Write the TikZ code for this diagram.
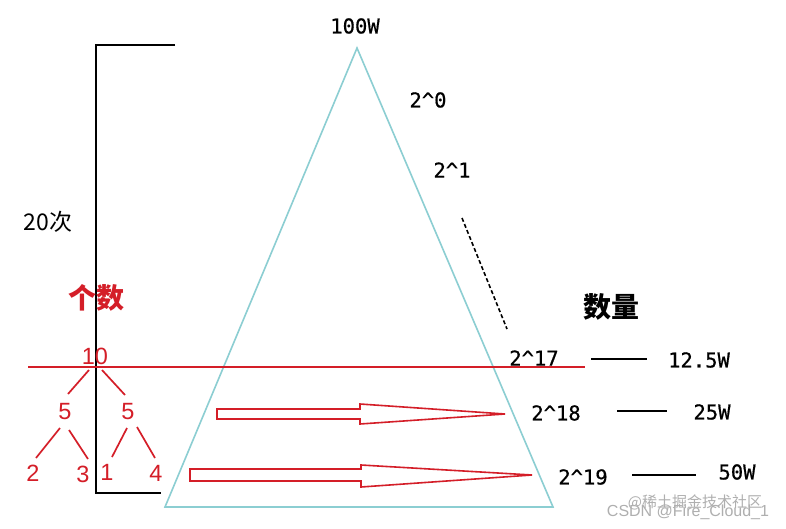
\documentclass[tikz,border=0pt]{standalone}
\usepackage{fontspec}
\setmainfont{Liberation Sans}
\newfontfamily\cjk{Noto Sans CJK SC}
\newfontfamily\mono[FakeBold=0.6]{DejaVu Sans Mono}
\definecolor{tricol}{RGB}{140,206,210}
\definecolor{redc}{RGB}{212,30,40}
\definecolor{wmc}{RGB}{175,175,175}
\begin{document}
\begin{tikzpicture}[x=1pt,y=-1pt,
  tri/.style={draw=tricol, line width=1.6pt, line join=miter},
  brk/.style={draw=black, line width=2pt},
  redl/.style={draw=redc, line width=1.7pt},
  blk/.style={font=\mono\fontsize{20.5}{24}\selectfont, inner sep=0pt},
  rnum/.style={font=\fontsize{23.5}{26}\selectfont, text=redc, inner sep=0pt},
  tickl/.style={draw=black, line width=1.6pt},
  blockarrow/.style={draw=redc, line width=1.6pt, line join=miter},
  wm/.style={text=wmc, inner sep=0pt}]
\useasboundingbox (0,0) rectangle (786,529);
\fill[white] (0,0) rectangle (786,529);
% triangle
\coordinate (apex) at (357,48);
\coordinate (bl) at (165,507);
\coordinate (br) at (553,507);
\draw[tri] (apex) -- (br) -- (bl) -- cycle;
% bracket
\coordinate (bt) at (175,45);
\coordinate (tl) at (96,45);
\coordinate (bb) at (96,493);
\coordinate (be) at (161,493);
\draw[brk] (bt) -- (tl) -- (bb) -- (be);
% red horizontal line
\coordinate (rl1) at (28,367);
\coordinate (rl2) at (585,367);
\draw[redl] (rl1) -- (rl2);
% block arrows
\coordinate (a1) at (217,409); \coordinate (a2) at (360,409);
\coordinate (a3) at (360,404); \coordinate (a4) at (505,414);
\coordinate (a5) at (360,424); \coordinate (a6) at (360,419);
\coordinate (a7) at (217,419);
\draw[blockarrow] (a1) -- (a2) -- (a3) -- (a4) -- (a5) -- (a6) -- (a7) -- cycle;
\coordinate (b1) at (190,469); \coordinate (b2) at (361,469);
\coordinate (b3) at (361,465); \coordinate (b4) at (532,475);
\coordinate (b5) at (361,487); \coordinate (b6) at (361,481);
\coordinate (b7) at (190,481);
\draw[blockarrow] (b1) -- (b2) -- (b3) -- (b4) -- (b5) -- (b6) -- (b7) -- cycle;
% tree
\node[rnum] (n10) at (95,356) {10};
\node[rnum] (n5a) at (65,412) {5};
\node[rnum] (n5b) at (128,412) {5};
\node[rnum] (n2) at (33,473) {2};
\node[rnum] (n3) at (83,474) {3};
\node[rnum] (n1) at (107,472) {1};
\node[rnum] (n4) at (156,473) {4};
\coordinate (t1s) at (89,370); \coordinate (t1e) at (68,394);
\coordinate (t2s) at (102,370); \coordinate (t2e) at (125,395);
\coordinate (t3s) at (60,428); \coordinate (t3e) at (36,458);
\coordinate (t4s) at (69,430); \coordinate (t4e) at (88,459);
\coordinate (t5s) at (127,428); \coordinate (t5e) at (112,457);
\coordinate (t6s) at (137,427); \coordinate (t6e) at (155,458);
\draw[redl] (t1s) -- (t1e);
\draw[redl] (t2s) -- (t2e);
\draw[redl] (t3s) -- (t3e);
\draw[redl] (t4s) -- (t4e);
\draw[redl] (t5s) -- (t5e);
\draw[redl] (t6s) -- (t6e);
% labels
\node[inner sep=0pt, font=\cjk\fontsize{23}{26}\selectfont] (ci) at (48,222) {20次};
\node[inner sep=0pt, text=redc, font=\cjk\bfseries\fontsize{28}{32}\selectfont] (gs) at (96,298) {个数};
\node[inner sep=0pt, font=\cjk\bfseries\fontsize{28}{32}\selectfont] (sl) at (611,307) {数量};
\node[blk] (top) at (355,26) {100W};
\node[blk] (p0) at (428,100) {2\textasciicircum0};
\node[blk] (p1) at (452,170) {2\textasciicircum1};
\coordinate (d1) at (462,218);
\coordinate (d2) at (507,329);
\draw[line width=1.6pt, dash pattern=on 4pt off 2.5pt] (d1) -- (d2);
\node[blk] (p17) at (534,358) {2\textasciicircum17};
\node[blk] (p18) at (556,413) {2\textasciicircum18};
\node[blk] (p19) at (583,477) {2\textasciicircum19};
\node[blk] (v1) at (699,360) {12.5W};
\node[blk] (v2) at (712,412) {25W};
\node[blk] (v3) at (737,472) {50W};
\coordinate (l1s) at (591,359); \coordinate (l1e) at (647,359);
\coordinate (l2s) at (617,411); \coordinate (l2e) at (667,411);
\coordinate (l3s) at (632,475); \coordinate (l3e) at (696,475);
\draw[tickl] (l1s) -- (l1e);
\draw[tickl] (l2s) -- (l2e);
\draw[tickl] (l3s) -- (l3e);
% watermarks
\node[wm, font=\cjk\fontsize{15}{17}\selectfont] (wm1) at (695,502) {@稀土掘金技术社区};
\node[wm, font=\fontsize{16}{18}\selectfont] (wm2) at (688,512) {CSDN @Fire\_Cloud\_1};
\end{tikzpicture}
\end{document}
